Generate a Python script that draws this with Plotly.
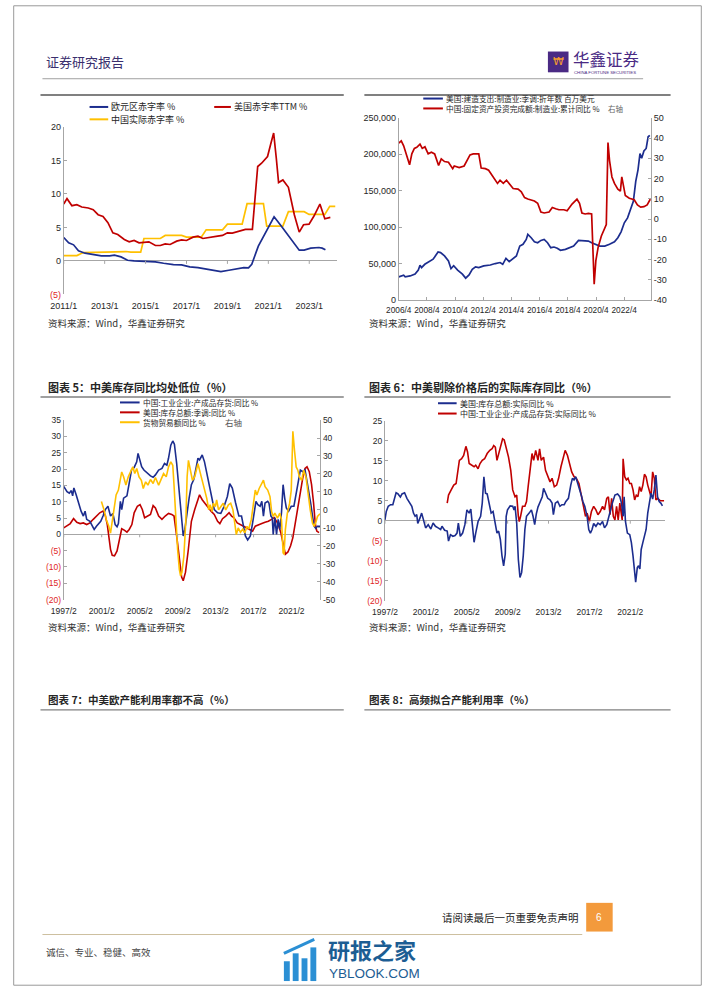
import plotly.graph_objects as go

# ======================= DATA =======================
# Chart A (top-left): deficit ratios, x in decimal years
a_eu_x = [2011.0, 2011.24, 2011.48, 2011.72, 2012.04, 2012.44, 2012.84, 2013.24, 2013.48, 2013.8, 2014.12, 2014.44,
          2014.92, 2015.48, 2015.88, 2016.36, 2016.76, 2017.16, 2017.56, 2017.96, 2018.36, 2018.68, 2019.07, 2019.47,
          2019.8, 2020.03, 2020.19, 2020.51, 2020.83, 2021.28, 2021.63, 2022.11, 2022.51, 2022.75, 2023.07, 2023.47,
          2023.63, 2023.79]
a_eu_y = [3.5, 2.7, 2.4, 1.5, 1.15, 1.0, 0.75, 0.75, 0.85, 0.6, 0.1, 0.0, -0.1, -0.15, -0.35, -0.55, -0.6, -0.9, -1.0,
          -1.2, -1.5, -1.6, -1.4, -1.2, -1.0, -1.05, -0.5, 2.2, 4.0, 6.6, 5.2, 3.2, 1.6, 1.6, 1.9, 2.0, 1.9, 1.65]
a_us_x = [2011.0, 2011.16, 2011.4, 2011.64, 2011.88, 2012.2, 2012.44, 2012.68, 2012.92, 2013.16, 2013.4, 2013.64,
          2013.96, 2014.2, 2014.44, 2014.68, 2015.16, 2015.48, 2015.72, 2015.96, 2016.2, 2016.52, 2016.76, 2017.0,
          2017.32, 2017.56, 2017.8, 2018.12, 2018.52, 2018.76, 2019.0, 2019.24, 2019.56, 2019.88, 2020.22, 2020.48,
          2020.67, 2020.96, 2021.12, 2021.26, 2021.39, 2021.5, 2021.71, 2021.98, 2022.27, 2022.51, 2022.72, 2022.99,
          2023.23, 2023.52, 2023.76, 2024.03]
a_us_y = [8.5, 9.3, 8.25, 8.4, 8.05, 7.9, 7.65, 6.9, 6.65, 5.7, 4.2, 3.95, 3.2, 2.85, 3.05, 2.7, 2.85, 2.3, 2.3, 2.55,
          2.45, 2.95, 3.15, 3.05, 3.55, 3.7, 3.35, 3.55, 3.7, 3.8, 4.2, 4.15, 4.45, 4.7, 4.7, 14.1, 14.6, 15.6, 17.5,
          19.1, 15.3, 11.7, 12.1, 11.0, 6.9, 4.3, 5.4, 5.5, 6.7, 8.5, 6.3, 6.5]
a_cn_x = [2011.0, 2011.64, 2011.96, 2012.76, 2013.0, 2014.04, 2014.28, 2014.76, 2014.92, 2015.72, 2015.96, 2016.76,
          2017.0, 2017.72, 2017.96, 2018.76, 2019.0, 2019.72, 2019.96, 2020.76, 2020.92, 2021.71, 2021.98, 2022.75,
          2022.99, 2023.76, 2024.0, 2024.27]
a_cn_y = [0.8, 0.8, 1.25, 1.3, 1.4, 1.4, 1.3, 1.3, 3.35, 3.35, 3.8, 3.8, 3.55, 3.55, 4.65, 4.65, 5.5, 5.5, 8.55, 8.55,
          5.2, 5.2, 7.35, 7.35, 6.95, 6.95, 8.15, 8.15]
a_ticks = [2011, 2013, 2015, 2017, 2019, 2021, 2023]
a_ticktext = ["2011/1", "2013/1", "2015/1", "2017/1", "2019/1", "2021/1", "2023/1"]

# Chart B (top-right): US manufacturing construction (left) / China FAI manufacturing YoY (right)
b_us_x = [2006.25, 2006.6, 2006.71, 2007.06, 2007.41, 2007.64, 2007.76, 2007.87, 2008.1, 2008.45, 2008.69, 2008.8,
          2009.04, 2009.22, 2009.5, 2009.78, 2009.96, 2010.15, 2010.43, 2010.77, 2011.0, 2011.24, 2011.47, 2011.7,
          2011.93, 2012.28, 2012.75, 2013.1, 2013.44, 2013.63, 2013.86, 2014.09, 2014.32, 2014.6, 2014.84, 2015.07,
          2015.3, 2015.41, 2015.65, 2015.88, 2016.11, 2016.34, 2016.57, 2016.81, 2017.04, 2017.27, 2017.5, 2017.73,
          2018.08, 2018.43, 2018.66, 2019.01, 2019.36, 2019.71, 2019.94, 2020.17, 2020.52, 2020.87, 2021.21, 2021.56,
          2021.8, 2022.03, 2022.26, 2022.49, 2022.72, 2022.9, 2023.07, 2023.23, 2023.37, 2023.49, 2023.65, 2023.81,
          2023.95, 2024.07]
b_us_y = [31800, 34000, 31800, 33000, 35500, 41000, 47700, 44500, 49000, 53600, 56000, 59000, 66000, 65000, 60500,
          53600, 43000, 47000, 41000, 35500, 30000, 34500, 42000, 45500, 44500, 46800, 48000, 50000, 51400, 49000,
          57000, 52700, 56000, 60500, 74000, 76400, 83200, 90000, 85500, 80000, 78600, 81800, 83200, 78600, 71800,
          72700, 71000, 68200, 69500, 71800, 74000, 81800, 80900, 80900, 78600, 76400, 74000, 74000, 76400, 80000,
          85500, 93600, 106000, 112700, 124000, 135500, 162700, 178600, 201000, 194500, 204500, 208000, 224000,
          226000]
b_cn_x = [2006.25, 2006.43, 2006.6, 2006.83, 2007.02, 2007.18, 2007.36, 2007.53, 2007.76, 2007.92, 2008.11, 2008.34,
          2008.57, 2008.8, 2009.08, 2009.27, 2009.5, 2009.78, 2010.08, 2010.19, 2010.54, 2010.89, 2011.12, 2011.31,
          2011.54, 2011.93, 2012.1, 2012.4, 2012.63, 2012.86, 2013.1, 2013.26, 2013.44, 2013.67, 2013.9, 2014.14,
          2014.37, 2014.72, 2014.95, 2015.18, 2015.41, 2015.88, 2016.11, 2016.34, 2016.57, 2016.92, 2017.15, 2017.39,
          2017.62, 2017.97, 2018.2, 2018.55, 2018.9, 2019.08, 2019.25, 2019.48, 2019.71, 2019.94, 2019.99, 2020.12,
          2020.24, 2020.4, 2020.63, 2020.87, 2020.98, 2021.1, 2021.21, 2021.38, 2021.56, 2021.8, 2021.98, 2022.08,
          2022.21, 2022.33, 2022.61, 2022.96, 2023.19, 2023.42, 2023.65, 2023.88, 2024.1]
b_cn_y = [37.5, 38.6, 36.2, 30.5, 26.8, 32.2, 34.9, 35.4, 37.0, 34.9, 35.7, 32.2, 33.0, 32.2, 26.5, 29.7, 28.4, 28.1,
          24.9, 26.2, 25.4, 26.2, 28.9, 31.7, 32.2, 32.2, 25.2, 24.9, 24.1, 21.9, 19.2, 17.6, 19.2, 17.6, 19.2, 16.8,
          15.1, 14.8, 13.5, 10.6, 9.9, 8.9, 7.8, 3.5, 3.0, 3.5, 5.7, 5.1, 4.6, 4.6, 4.1, 7.4, 9.8, 7.8, 3.0, 2.5, 2.8,
          2.5, -7.6, -32.2, -20.5, -14.0, -8.4, -4.3, -2.7, 37.8, 28.9, 20.8, 17.6, 14.8, 13.8, 20.8, 16.8, 11.6, 10.3,
          9.5, 7.0, 5.9, 6.1, 7.0, 9.8]
b_ticks = [2006.25, 2008.25, 2010.25, 2012.25, 2014.25, 2016.25, 2018.25, 2020.25, 2022.25]
b_ticktext = ["2006/4", "2008/4", "2010/4", "2012/4", "2014/4", "2016/4", "2018/4", "2020/4", "2022/4"]

# Chart C (chart 5): inventory YoY
c_cn_x = [1997.08, 1997.43, 1997.67, 1997.88, 1998.02, 1998.15, 1998.39, 1998.64, 1998.91, 1999.15, 1999.33, 1999.5,
          1999.84, 2000.02, 2000.29, 2000.53, 2000.7, 2000.98, 2001.22, 2001.46, 2001.74, 2002.01, 2002.26, 2002.5,
          2002.7, 2002.84, 2003.05, 2003.19, 2003.39, 2003.74, 2003.98, 2004.22, 2004.5, 2004.77, 2004.91, 2005.12,
          2005.29, 2005.53, 2005.88, 2006.22, 2006.5, 2006.74, 2007.08, 2007.43, 2007.7, 2007.95, 2008.12, 2008.36,
          2008.57, 2008.74, 2008.98, 2009.26, 2009.5, 2009.67, 2009.84, 2010.08, 2010.29, 2010.53, 2010.77, 2011.05,
          2011.22, 2011.39, 2011.67, 2011.91, 2012.15, 2012.43, 2012.7, 2012.94, 2013.29, 2013.63, 2013.98, 2014.32,
          2014.57, 2014.84, 2015.19, 2015.53, 2015.81, 2016.05, 2016.22, 2016.46, 2016.74, 2016.98, 2017.19, 2017.33,
          2017.53, 2017.77, 2017.95, 2018.12, 2018.29, 2018.57, 2018.7, 2018.91, 2019.05, 2019.15, 2019.32, 2019.5,
          2019.67, 2019.84, 2020.02, 2020.19, 2020.36, 2020.53, 2020.77, 2021.05, 2021.33, 2021.57, 2021.81, 2022.01,
          2022.26, 2022.5, 2022.71, 2022.95, 2023.12, 2023.29, 2023.46, 2023.64, 2023.81, 2024.08]
c_cn_y = [14.7, 13.1, 12.6, 13.4, 11.8, 14.2, 12.1, 9.6, 7.1, 5.6, 7.1, 4.6, 4.0, 3.0, 1.5, 2.5, 3.0, 4.0, 5.6, 7.6,
          8.6, 5.6, 6.4, 3.0, 2.3, 3.3, 10.1, 7.6, 11.1, 11.8, 15.7, 19.7, 20.5, 22.2, 24.8, 22.8, 20.7, 19.7, 18.7,
          17.9, 17.5, 18.2, 19.7, 20.2, 21.7, 21.2, 23.3, 27.3, 28.6, 27.6, 21.7, 12.6, 5.6, -0.5, 1.5, 7.6, 11.1, 15.2,
          16.7, 20.7, 23.3, 22.8, 24.3, 22.2, 18.7, 14.7, 10.1, 7.6, 6.6, 6.4, 8.6, 11.6, 15.5, 14.2, 9.6, 5.6, 5.6,
          2.5, -0.5, -1.7, -0.5, 3.5, 7.1, 10.1, 9.1, 8.6, 10.1, 5.6, 9.6, 10.1, 9.6, 5.6, 5.1, 0.0, 5.1, 0.0, 4.6, 1.5,
          6.6, 15.2, 11.1, 8.1, 7.1, 8.6, 8.6, 12.6, 16.7, 19.7, 19.2, 19.7, 16.2, 11.1, 9.1, 5.6, 2.5, 1.8, 2.5, 2.5]
c_us_x = [1997.08, 1997.43, 1997.77, 1998.12, 1998.46, 1998.81, 1999.15, 1999.5, 1999.84, 2000.19, 2000.53, 2000.88,
          2001.22, 2001.46, 2001.67, 2001.84, 2002.01, 2002.19, 2002.43, 2002.7, 2002.94, 2003.19, 2003.46, 2003.74,
          2003.98, 2004.26, 2004.5, 2004.84, 2005.12, 2005.36, 2005.6, 2005.95, 2006.22, 2006.5, 2006.74, 2007.08,
          2007.43, 2007.77, 2008.12, 2008.46, 2008.7, 2008.98, 2009.26, 2009.5, 2009.67, 2009.91, 2010.19, 2010.53,
          2010.88, 2011.22, 2011.39, 2011.67, 2011.91, 2012.26, 2012.6, 2012.94, 2013.29, 2013.53, 2013.81, 2014.15,
          2014.5, 2014.77, 2015.01, 2015.36, 2015.7, 2016.05, 2016.39, 2016.74, 2016.98, 2017.26, 2017.6, 2017.95,
          2018.29, 2018.64, 2018.98, 2019.26, 2019.5, 2019.74, 2019.95, 2020.19, 2020.43, 2020.7, 2020.98, 2021.22,
          2021.46, 2021.74, 2022.01, 2022.26, 2022.5, 2022.71, 2022.95, 2023.19, 2023.4, 2023.57, 2023.74, 2023.98]
c_us_y = [2.0, 2.7, 3.3, 4.8, 3.7, 3.3, 3.5, 3.0, 3.5, 4.6, 5.6, 6.6, 7.1, 5.8, 3.0, -0.5, -4.6, -6.4, -6.6, -5.1,
          -1.5, 1.7, 1.3, 0.7, 1.5, 3.0, 6.6, 8.6, 9.1, 7.6, 5.1, 5.6, 6.1, 8.8, 8.1, 5.6, 4.6, 5.6, 6.4, 6.1, 5.6,
          -0.5, -7.6, -13.1, -14.2, -11.6, -5.1, 4.0, 7.6, 11.1, 12.1, 10.6, 9.6, 8.4, 7.1, 6.1, 4.0, 3.3, 4.8, 5.6,
          6.6, 5.6, 5.1, 3.5, 3.0, 2.5, 2.0, 1.5, 1.0, 2.5, 3.0, 3.3, 3.7, 4.0, 4.6, 5.1, 4.0, 2.5, 0.5, -2.5, -6.1,
          -5.4, -3.5, -1.0, 3.5, 8.6, 12.6, 17.2, 20.2, 20.7, 19.2, 15.2, 9.6, 3.5, 1.0, 0.5]
c_tr_x = [2001.05, 2001.33, 2001.57, 2001.81, 2002.01, 2002.15, 2002.36, 2002.6, 2002.84, 2003.05, 2003.19, 2003.39,
          2003.63, 2003.88, 2004.15, 2004.36, 2004.57, 2004.77, 2005.01, 2005.26, 2005.46, 2005.71, 2005.95, 2006.22,
          2006.5, 2006.74, 2007.08, 2007.32, 2007.6, 2007.88, 2008.12, 2008.36, 2008.57, 2008.71, 2008.91, 2009.08,
          2009.26, 2009.39, 2009.53, 2009.74, 2009.95, 2010.08, 2010.22, 2010.43, 2010.64, 2010.88, 2011.05, 2011.22,
          2011.39, 2011.67, 2011.91, 2012.15, 2012.36, 2012.5, 2012.7, 2012.84, 2013.05, 2013.19, 2013.39, 2013.63,
          2013.88, 2014.15, 2014.43, 2014.67, 2014.91, 2015.12, 2015.26, 2015.46, 2015.7, 2015.95, 2016.15, 2016.39,
          2016.57, 2016.84, 2017.08, 2017.26, 2017.43, 2017.67, 2017.95, 2018.12, 2018.29, 2018.57, 2018.81, 2018.98,
          2019.15, 2019.32, 2019.6, 2019.84, 2020.02, 2020.19, 2020.29, 2020.43, 2020.64, 2020.88, 2021.05, 2021.22,
          2021.39, 2021.57, 2021.74, 2021.91, 2022.15, 2022.36, 2022.6, 2022.84, 2023.05, 2023.29, 2023.46, 2023.64,
          2023.81, 2024.08]
c_tr_y = [4.6, 0.0, -5.5, -8.8, -12.9, -7.4, 0.0, 8.3, 11.0, 16.5, 21.1, 18.4, 13.8, 18.4, 22.1, 23.9, 20.2, 23.0,
          18.4, 16.5, 11.9, 15.6, 13.8, 16.9, 14.7, 18.0, 13.8, 16.5, 20.2, 18.4, 23.9, 26.7, 24.8, 12.9, -9.2, -22.1,
          -33.1, -36.8, -34.9, -25.7, -5.5, 18.4, 27.6, 22.1, 16.5, 18.4, 22.1, 25.7, 22.1, 16.5, 11.9, 6.4, 0.0, 2.8,
          -0.9, 3.7, 1.8, 5.5, 0.0, 1.8, 3.7, 0.0, 2.8, 3.7, 0.0, -8.3, -13.8, -10.1, -12.5, -10.7, -12.9, -9.2, -10.7,
          -5.5, 3.7, 11.0, 8.3, 11.9, 14.7, 16.5, 12.9, 11.0, 7.4, -0.9, -3.7, -1.8, -4.6, -1.8, -5.5, -23.9, -24.8,
          -11.0, -1.8, 3.7, 11.0, 43.8, 33.1, 23.9, 22.1, 18.4, 16.5, 22.1, 18.4, 7.4, 0.0, -7.4, -9.2, -7.0, -3.7,
          -2.2]
cd_ticks = [1997.083, 2001.083, 2005.083, 2009.083, 2013.083, 2017.083, 2021.083]
cd_ticktext = ["1997/2", "2001/2", "2005/2", "2009/2", "2013/2", "2017/2", "2021/2"]

# Chart D (chart 6): real inventory YoY
d_us_x = [1997.08, 1997.21, 1997.4, 1997.63, 1997.85, 1998.04, 1998.17, 1998.36, 1998.59, 1998.75, 1999.0, 1999.23,
          1999.45, 1999.71, 1999.87, 2000.03, 2000.19, 2000.29, 2000.51, 2000.67, 2000.83, 2001.06, 2001.31, 2001.57,
          2001.79, 2002.02, 2002.28, 2002.53, 2002.66, 2002.92, 2003.17, 2003.3, 2003.49, 2003.72, 2003.94, 2004.13,
          2004.26, 2004.45, 2004.68, 2004.9, 2005.1, 2005.32, 2005.48, 2005.64, 2005.8, 2005.96, 2006.19, 2006.44,
          2006.6, 2006.76, 2006.92, 2007.08, 2007.24, 2007.47, 2007.66, 2007.88, 2008.04, 2008.2, 2008.37, 2008.53,
          2008.69, 2008.85, 2008.94, 2009.07, 2009.33, 2009.58, 2009.71, 2009.81, 2009.97, 2010.13, 2010.29, 2010.45,
          2010.61, 2010.77, 2010.93, 2011.19, 2011.41, 2011.57, 2011.73, 2011.89, 2012.05, 2012.28, 2012.47, 2012.6,
          2012.79, 2013.01, 2013.23, 2013.43, 2013.56, 2013.75, 2013.98, 2014.2, 2014.39, 2014.62, 2014.78, 2015.03,
          2015.26, 2015.42, 2015.58, 2015.74, 2015.9, 2016.12, 2016.31, 2016.44, 2016.63, 2016.86, 2017.02, 2017.18,
          2017.34, 2017.5, 2017.72, 2017.92, 2018.14, 2018.37, 2018.56, 2018.78, 2018.94, 2019.1, 2019.33, 2019.58,
          2019.84, 2020.06, 2020.22, 2020.39, 2020.48, 2020.61, 2020.8, 2021.03, 2021.19, 2021.35, 2021.51, 2021.61,
          2021.77, 2021.89, 2022.02, 2022.15, 2022.31, 2022.47, 2022.63, 2022.79, 2022.95, 2023.11, 2023.27, 2023.43,
          2023.59, 2023.75, 2023.91, 2024.07, 2024.23]
d_us_y = [0.2, 2.3, 3.6, 4.0, 4.0, 6.0, 7.0, 6.7, 5.9, 6.7, 7.0, 5.6, 4.8, 3.6, 1.9, 1.1, 1.5, -0.7, 0.7, 1.9, 0.4,
          -1.8, -1.0, -2.1, -0.6, -1.4, -1.8, -2.2, -1.4, -2.4, -2.6, -5.1, -3.5, -3.9, -3.7, -3.1, -0.6, -3.9, -3.1,
          -1.0, 2.7, 1.9, 2.9, -1.4, -5.4, -3.1, -0.2, 1.1, 4.4, 11.0, 6.9, 6.7, 4.4, 1.9, 2.3, -0.6, -3.1, -2.6, -4.7,
          -8.8, -11.3, -8.4, 1.1, 2.7, 3.7, 3.6, 2.7, 3.6, -0.6, -9.7, -14.2, -13.0, -8.8, -2.2, 1.1, 1.9, 2.7, 1.1,
          -1.0, 1.7, 3.4, 4.8, 6.0, 8.1, 6.9, 5.6, 5.2, 4.4, 1.5, 4.4, 4.8, 3.6, 4.0, 4.0, 4.8, 5.6, 8.9, 10.6, 10.2,
          11.0, 9.7, 8.1, 6.2, 4.8, 3.6, 1.1, -2.2, -3.1, -2.2, -0.7, -1.4, -0.6, -1.0, -0.2, -1.8, -1.0, 0.7, 2.7,
          4.4, 6.4, 6.7, 6.0, 4.4, 1.1, 6.0, -0.2, -3.1, -3.5, -5.5, -8.8, -12.1, -15.4, -11.7, -11.3, -12.1, -7.2,
          -5.5, -3.5, -2.2, 1.9, 4.8, 6.9, 5.4, 7.7, 11.4, 6.0, 4.8, 4.4, 3.7]
d_cn_x = [2003.17, 2003.3, 2003.56, 2003.81, 2004.04, 2004.2, 2004.36, 2004.58, 2004.78, 2005.0, 2005.16, 2005.32,
          2005.54, 2005.8, 2005.96, 2006.19, 2006.38, 2006.6, 2006.83, 2007.08, 2007.34, 2007.56, 2007.72, 2007.88,
          2008.04, 2008.2, 2008.37, 2008.59, 2008.75, 2008.94, 2009.17, 2009.39, 2009.58, 2009.81, 2009.97, 2010.13,
          2010.22, 2010.35, 2010.54, 2010.77, 2010.93, 2011.09, 2011.25, 2011.47, 2011.63, 2011.83, 2012.05, 2012.21,
          2012.37, 2012.6, 2012.79, 2013.01, 2013.23, 2013.43, 2013.65, 2013.88, 2014.07, 2014.3, 2014.52, 2014.71,
          2014.94, 2015.16, 2015.35, 2015.58, 2015.8, 2016.06, 2016.31, 2016.54, 2016.7, 2016.86, 2017.08, 2017.28,
          2017.5, 2017.72, 2017.92, 2018.14, 2018.37, 2018.56, 2018.78, 2018.94, 2019.1, 2019.26, 2019.42, 2019.58,
          2019.74, 2019.9, 2020.06, 2020.29, 2020.38, 2020.54, 2020.7, 2020.86, 2021.03, 2021.19, 2021.35, 2021.51,
          2021.67, 2021.83, 2021.99, 2022.15, 2022.31, 2022.47, 2022.63, 2022.79, 2022.95, 2023.11, 2023.27, 2023.43,
          2023.59, 2023.75, 2024.0, 2024.39]
d_cn_y = [4.4, 6.4, 7.7, 8.9, 9.3, 12.6, 15.1, 15.5, 16.3, 18.6, 17.2, 14.3, 13.9, 13.5, 13.9, 13.0, 14.3, 15.1,
          15.5, 16.8, 17.6, 18.0, 18.8, 18.4, 15.1, 16.8, 18.8, 20.5, 20.2, 18.4, 15.9, 12.6, 7.7, 6.0, 6.4, 1.1, -0.2,
          1.1, 3.6, 3.6, 4.8, 8.5, 12.6, 16.8, 15.1, 17.6, 15.1, 18.0, 15.1, 15.9, 12.6, 11.0, 9.7, 10.6, 8.5, 8.9,
          10.6, 13.5, 15.5, 17.6, 16.3, 13.9, 12.2, 11.0, 10.6, 9.3, 6.0, 3.6, 1.1, 1.9, -0.2, 2.3, 3.6, 2.7, 1.5, 2.3,
          3.6, 2.7, 5.6, 6.0, 1.5, 5.6, 1.1, 0.2, 3.6, 0.2, 4.4, 0.2, 15.5, 11.0, 10.2, 10.6, 9.3, 9.3, 7.7, 5.2, 6.4,
          6.0, 8.5, 7.3, 8.9, 11.6, 11.0, 8.9, 7.7, 6.0, 12.2, 10.6, 5.2, 5.6, 5.0, 5.0]

# ======================= STYLE =======================
W, H = 702, 991
BLUE = "#1c2d8e"
RED = "#c00000"
YELLOW = "#ffc000"
NEG = "#e02626"
AXC = "#a6a6a6"
TXT = "#262626"
LAT = "Liberation Sans, Arial, Noto Sans CJK SC, sans-serif"
CJK = "Noto Sans CJK SC, Liberation Sans, sans-serif"
PURPLE = "#4a2a84"


def px(x):
    return x / W


def py(y):
    return 1 - y / H


def neg_text(vals):
    out = []
    for v in vals:
        if v < 0:
            out.append(f'<span style="color:{NEG}">({abs(v)})</span>')
        else:
            out.append(str(v))
    return out


fig = go.Figure()


def line(xs, ys, color, xa, ya, w=1.7):
    fig.add_trace(go.Scatter(x=xs, y=ys, mode="lines", line=dict(color=color, width=w),
                             xaxis=xa, yaxis=ya, showlegend=False, hoverinfo="skip"))


# chart A
line(a_cn_x, a_cn_y, YELLOW, "x", "y")
line(a_us_x, a_us_y, RED, "x", "y")
line(a_eu_x, a_eu_y, BLUE, "x", "y")
# chart B
line(b_us_x, b_us_y, BLUE, "x2", "y2")
line(b_cn_x, b_cn_y, RED, "x2", "y3")
# chart C
line(c_tr_x, c_tr_y, YELLOW, "x3", "y5", 1.6)
line(c_us_x, c_us_y, RED, "x3", "y4", 1.6)
line(c_cn_x, c_cn_y, BLUE, "x3", "y4", 1.6)
# chart D
line(d_cn_x, d_cn_y, RED, "x4", "y6", 1.6)
line(d_us_x, d_us_y, BLUE, "x4", "y6", 1.6)

tickfont9 = dict(family=LAT, size=9, color=TXT)
tickfont85 = dict(family=LAT, size=8.5, color=TXT)


def xax(dom, rng, tv, tt, anchor, font, showline=False, standoff=5):
    return dict(domain=[px(dom[0]), px(dom[1])], range=rng, tickvals=tv, ticktext=tt, anchor=anchor,
                showgrid=False, zeroline=False, showline=showline, linecolor=AXC, linewidth=1, tickangle=0,
                ticks="inside" if showline else "", ticklen=3, tickcolor=AXC, tickfont=font, fixedrange=True,
                ticklabelstandoff=standoff)


def yax(dom, rng, tv, tt, anchor, font, side="left", zero=False, overlay=None):
    d = dict(domain=[py(dom[1]), py(dom[0])], range=rng, tickvals=tv, ticktext=tt, anchor=anchor, side=side,
             showgrid=False, zeroline=zero, zerolinecolor=AXC, zerolinewidth=1, showline=True, linecolor=AXC,
             linewidth=1, ticks="inside", ticklen=3, tickcolor=AXC, tickfont=font, fixedrange=True)
    if overlay:
        d["overlaying"] = overlay
    return d


A_X = (51.7, 330)
A_Y = (123.3, 292.3)
B_X = (393, 650)
B_Y = (114, 298)
C_X = (51.7, 313)
C_Y = (419.3, 600.7)
D_X = (379, 664)
D_Y = (420, 601.7)

a_yv = [-5, 0, 5, 10, 15, 20]
b_lv = [0, 50000, 100000, 150000, 200000, 250000]
b_rv = [-40, -30, -20, -10, 0, 10, 20, 30, 40, 50]
c_lv = [-20, -15, -10, -5, 0, 5, 10, 15, 20, 25, 30, 35]
c_rv = [-50, -40, -30, -20, -10, 0, 10, 20, 30, 40, 50]
d_v = [-20, -15, -10, -5, 0, 5, 10, 15, 20, 25]

layout = dict(
    width=W, height=H, autosize=False, margin=dict(l=0, r=0, t=0, b=0),
    paper_bgcolor="white", plot_bgcolor="rgba(0,0,0,0)", showlegend=False,
    xaxis=xax(A_X, [2011.0, 2024.35], a_ticks, a_ticktext, "y", tickfont9),
    yaxis=yax(A_Y, [-5, 20], a_yv, neg_text(a_yv), "x", tickfont9, zero=True),
    xaxis2=xax(B_X, [2006.25, 2024.15], b_ticks, b_ticktext, "y2", dict(family=LAT, size=8.3, color=TXT),
               showline=True, standoff=2),
    yaxis2=yax(B_Y, [0, 250000], b_lv, [f"{v:,}" for v in b_lv], "x2", tickfont9),
    yaxis3=yax(B_Y, [-40, 50], b_rv, [str(v) for v in b_rv], "x2", tickfont9, side="right", overlay="y2"),
    xaxis3=xax(C_X, [1997.083, 2024.1], cd_ticks, cd_ticktext, "y4", tickfont85),
    yaxis4=yax(C_Y, [-20, 35], c_lv, neg_text(c_lv), "x3", tickfont85, zero=True),
    yaxis5=yax(C_Y, [-50, 50], c_rv, [str(v) for v in c_rv], "x3", tickfont85, side="right", overlay="y4"),
    xaxis4=xax(D_X, [1997.083, 2024.45], cd_ticks, cd_ticktext, "y6", tickfont85),
    yaxis6=yax(D_Y, [-20, 25], d_v, neg_text(d_v), "x4", tickfont85, zero=True),
)

shapes = []
ann = []


def hline(x0, x1, y, color, width):
    shapes.append(dict(type="line", xref="paper", yref="paper", x0=px(x0), x1=px(x1), y0=py(y), y1=py(y),
                       line=dict(color=color, width=width)))


def rect(x0, y0, x1, y1, fill, lc=None, lw=0):
    shapes.append(dict(type="rect", xref="paper", yref="paper", x0=px(x0), x1=px(x1), y0=py(y1), y1=py(y0),
                       fillcolor=fill, line=dict(color=lc or fill, width=lw)))


def text(x, y, s, size, color=TXT, anchor="left", family=CJK):
    ann.append(dict(xref="paper", yref="paper", x=px(x), y=py(y), text=s, showarrow=False, xanchor=anchor,
                    yanchor="middle", font=dict(size=size, color=color, family=family), borderpad=0))


# small tick marks on the zero lines (drawn in data space of each chart)
def zero_ticks(xref, yref, vals, depth):
    for v in vals:
        shapes.append(dict(type="line", xref=xref, yref=yref, x0=v, x1=v, y0=0, y1=-depth,
                           line=dict(color=AXC, width=1)))


zero_ticks("x", "y", a_ticks, 0.45)
zero_ticks("x3", "y4", cd_ticks, 0.9)
zero_ticks("x4", "y6", cd_ticks, 0.75)

# page frame
shapes.append(dict(type="rect", xref="paper", yref="paper", x0=0.001, x1=0.999, y0=0.0008, y1=0.9992,
                   line=dict(color="#9a9a9a", width=1)))

# header
text(33, 57, "证券研究报告", 13, "#3a2f6e")
rect(545, 47, 566, 68, PURPLE)
text(555.5, 57.5, "₩", 11, "#f29a2e", "center", "DejaVu Sans")
text(570, 55, "华鑫证券", 16.5, PURPLE)
text(571, 68.5, "CHINA FORTUNE SECURITIES", 4.3, PURPLE, family=LAT)
hline(30, 642, 74.5, "#a0a0a0", 1)

# section rules
hline(28, 337, 91, "#808080", 2)
hline(358, 670, 91, "#808080", 2)
hline(28, 337, 396, "#808080", 1.3)
hline(358, 670, 396, "#808080", 1.3)
hline(28, 337, 712, "#808080", 1.3)
hline(358, 670, 712, "#808080", 1.3)

# titles
text(35, 386, "<b>图表 5：中美库存同比均处低位（%）</b>", 11)
text(362, 386, "<b>图表 6：中美剔除价格后的实际库存同比（%）</b>", 11)
text(35, 702, "<b>图表 7：中美欧产能利用率都不高（%）</b>", 10.5)
text(362, 702, "<b>图表 8：高频拟合产能利用率（%）</b>", 10.5)

# sources
for (sx, sy) in [(35, 321), (362, 321), (35, 628), (362, 628)]:
    text(sx, sy, "资料来源：Wind，华鑫证券研究", 9.5, "#333333")


def legend_item(x0, x1, y, color, label, size=9):
    hline(x0, x1, y, color, 2)
    text(x1 + 2, y, label, size, TXT)


# legends chart A
legend_item(78, 97, 103, BLUE, "欧元区赤字率 %")
legend_item(205, 222, 103, RED, "美国赤字率TTM %")
legend_item(78, 97, 115.5, YELLOW, "中国实际赤字率 %")
# legends chart B
legend_item(418, 438, 94.5, BLUE, "美国:建造支出:制造业:季调:折年数 百万美元", 7.7)
legend_item(418, 438, 104.5, RED, "中国:固定资产投资完成额:制造业:累计同比 %", 7.7)
text(605, 105, "右轴", 7.5, "#666666")
# legends chart C
legend_item(109, 129, 401.5, BLUE, "中国:工业企业:产成品存货:同比 %", 7.7)
legend_item(109, 129, 411.5, RED, "美国:库存总额:季调:同比 %", 7.7)
legend_item(109, 129, 421.5, YELLOW, "货物贸易额同比 %", 7.7)
text(215, 421.5, "右轴", 8.5, "#555555")
# legends chart D
legend_item(433, 452, 402.3, BLUE, "美国:库存总额:实际同比 %", 8)
legend_item(433, 452, 412.7, RED, "中国:工业企业:产成品存货:实际同比 %", 8)

# footer
text(578, 921.5, "请阅读最后一页重要免责声明", 10.5, "#222222", "right")
rect(584, 907, 611, 936, "#f39a3c")
text(597.5, 921.5, "6", 10, "white", "center", LAT)
hline(30, 580, 939, "#cdbf9f", 1)
text(33, 957, "诚信、专业、稳健、高效", 9.5, "#444444")

# watermark
for (bx0, bx1, by0) in [(276, 282, 966), (285, 291, 958), (294, 300, 963), (303, 309, 952)]:
    rect(bx0, by0, bx1, 986, "#2b8fd4")
shapes.append(dict(type="line", xref="paper", yref="paper", x0=px(276), y0=py(958), x1=px(307), y1=py(944),
                   line=dict(color="#2b8fd4", width=3)))
text(320, 953.5, "<b>研报之家</b>", 22, "#1c5d93")
text(321, 978.5, "YBLOOK.COM", 13.5, "#1c5d93", family=LAT)

layout["shapes"] = shapes
layout["annotations"] = ann
fig.update_layout(**layout)
fig.write_html("out.html", config={"displayModeBar": False},
               post_script="document.body.style.margin='0';document.body.style.overflow='hidden';")
